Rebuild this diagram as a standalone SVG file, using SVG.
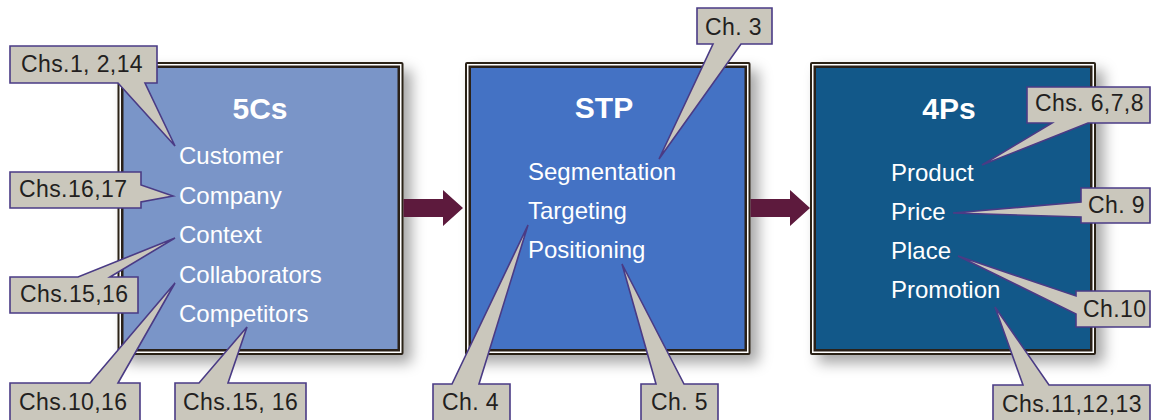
<svg xmlns="http://www.w3.org/2000/svg" width="1153" height="420" viewBox="0 0 1153 420">
  <style>
    .frame { fill: #2a2119; }
    .gap { fill: #ffffff; }
    .title { font-family: "Liberation Sans", Arial, sans-serif; font-weight: bold; font-size: 30px; fill: #ffffff; text-anchor: middle; }
    .item { font-family: "Liberation Sans", Arial, sans-serif; font-size: 24px; fill: #ffffff; }
    .callout { fill: #cac7bc; stroke: #4a3b85; stroke-width: 1.6; stroke-linejoin: miter; }
    .ctext { font-family: "Liberation Sans", Arial, sans-serif; font-size: 23px; fill: #231f20; letter-spacing: 0.4px; }
    .arrow { fill: #5d1a3d; }
  </style>
  <defs>
    <filter id="soft" x="-10%" y="-10%" width="130%" height="130%">
      <feDropShadow dx="8" dy="8" stdDeviation="7" flood-color="#000000" flood-opacity="0.35"/>
    </filter>
  </defs>
  <rect width="1153" height="420" fill="#ffffff"/>

  <!-- 5Cs -->
  <g id="node-5cs">
    <rect class="frame" x="117.5" y="62" width="286" height="293" rx="2" filter="url(#soft)"/>
    <rect class="gap" x="119.5" y="64" width="282" height="289"/>
    <rect class="frame" x="121" y="65.5" width="279" height="286"/>
    <rect x="123.5" y="68" width="274" height="281" fill="#7a95c8"/>
    <text class="title" x="260" y="119">5Cs</text>
    <text class="item" x="179" y="164">Customer</text>
    <text class="item" x="179" y="203.5">Company</text>
    <text class="item" x="179" y="243">Context</text>
    <text class="item" x="179" y="282.5">Collaborators</text>
    <text class="item" x="179" y="322">Competitors</text>
  </g>

  <!-- STP -->
  <g id="node-stp">
    <rect class="frame" x="465" y="62" width="285.5" height="293" rx="2" filter="url(#soft)"/>
    <rect class="gap" x="467" y="64" width="281.5" height="289"/>
    <rect class="frame" x="468.5" y="65.5" width="278.5" height="286"/>
    <rect x="471" y="68" width="273.5" height="281" fill="#4472c4"/>
    <text class="title" x="604" y="118">STP</text>
    <text class="item" x="528" y="180">Segmentation</text>
    <text class="item" x="528" y="219">Targeting</text>
    <text class="item" x="528" y="258">Positioning</text>
  </g>

  <!-- 4Ps -->
  <g id="node-4ps">
    <rect class="frame" x="810" y="62" width="286" height="293" rx="2" filter="url(#soft)"/>
    <rect class="gap" x="812" y="64" width="282" height="289"/>
    <rect class="frame" x="813.5" y="65.5" width="279" height="286"/>
    <rect x="816" y="68" width="274" height="281" fill="#125889"/>
    <text class="title" x="949" y="119">4Ps</text>
    <text class="item" x="891" y="181">Product</text>
    <text class="item" x="891" y="220">Price</text>
    <text class="item" x="891" y="259">Place</text>
    <text class="item" x="891" y="298">Promotion</text>
  </g>

  <!-- flow arrows between the stages -->
  <g id="connectors">
    <path class="arrow" d="M403.5,199 H443 V190 L463,208 L443,226 V217 H403.5 Z"/>
    <path class="arrow" d="M750.5,199 H790 V190 L810,208 L790,226 V217 H750.5 Z"/>
  </g>

  <!-- chapter callouts -->
  <g id="callout-customer">
    <path class="callout" d="M10,46 H157 V83 H145 L175,146 L118,83 H10 Z"/>
    <text class="ctext" x="21" y="72">Chs.1, 2,14</text>
  </g>
  <g id="callout-company">
    <path class="callout" d="M10,172 H141 V185 L173,196 L141,202 V208 H10 Z"/>
    <text class="ctext" x="19" y="197">Chs.16,17</text>
  </g>
  <g id="callout-context">
    <path class="callout" d="M10,277 H78 L175,238 L110,277 H138 V313 H10 Z"/>
    <text class="ctext" x="20" y="302">Chs.15,16</text>
  </g>
  <g id="callout-collaborators">
    <path class="callout" d="M10,383 H90 L175,283 L118,383 H140 V425 H10 Z"/>
    <text class="ctext" x="19" y="410">Chs.10,16</text>
  </g>
  <g id="callout-competitors">
    <path class="callout" d="M175,383 H199 L247,327 L228,383 H306 V425 H175 Z"/>
    <text class="ctext" x="183" y="410">Chs.15, 16</text>
  </g>
  <g id="callout-segmentation">
    <path class="callout" d="M697,8 H772 V44 H741 L659,159 L713,44 H697 Z"/>
    <text class="ctext" x="705" y="35">Ch. 3</text>
  </g>
  <g id="callout-targeting">
    <path class="callout" d="M433,384 H452 L528,225 L479,384 H510 V425 H433 Z"/>
    <text class="ctext" x="442" y="410">Ch. 4</text>
  </g>
  <g id="callout-positioning">
    <path class="callout" d="M641,384 H656 L622,264 L684,384 H718 V425 H641 Z"/>
    <text class="ctext" x="651" y="410">Ch. 5</text>
  </g>
  <g id="callout-product">
    <path class="callout" d="M1027,87 H1150 V123 H1088 L982,165 L1052,123 H1027 Z"/>
    <text class="ctext" x="1035" y="111">Chs. 6,7,8</text>
  </g>
  <g id="callout-price">
    <path class="callout" d="M1081,188 H1150 V223 H1081 V217 L953,213 L1081,202 Z"/>
    <text class="ctext" x="1088" y="213">Ch. 9</text>
  </g>
  <g id="callout-place">
    <path class="callout" d="M1076,291 H1150 V327 H1076 V314 L958,256 L1076,296 Z"/>
    <text class="ctext" x="1083" y="317">Ch.10</text>
  </g>
  <g id="callout-promotion">
    <path class="callout" d="M993,385 H1023 L995,307 L1049,385 H1150 V425 H993 Z"/>
    <text class="ctext" x="1002" y="412">Chs.11,12,13</text>
  </g>
</svg>
